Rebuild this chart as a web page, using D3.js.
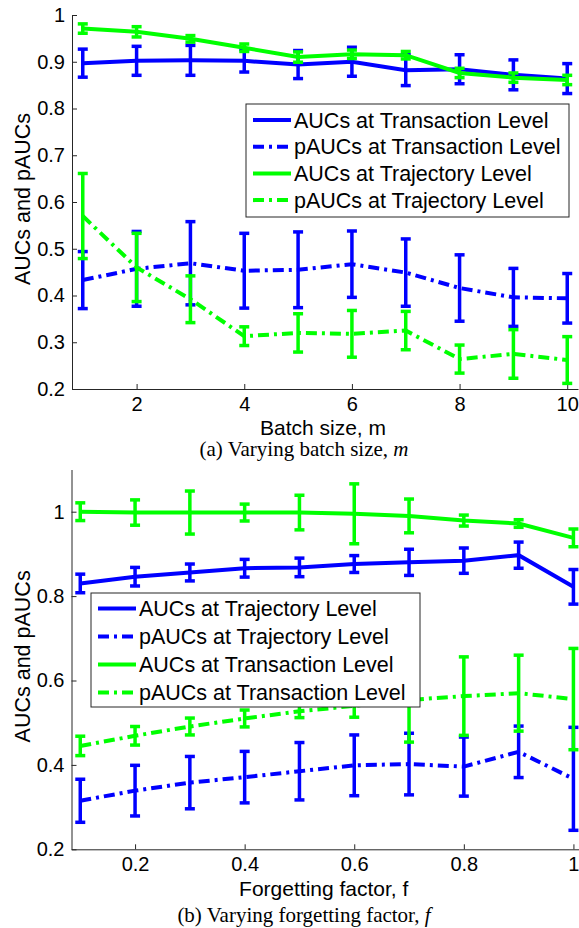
<!DOCTYPE html>
<html>
<head>
<meta charset="utf-8">
<script src="https://cdn.jsdelivr.net/npm/d3@7"></script>
<style>
  body { margin: 0; background: #fff; }
  svg { display: block; }
  text { font-family: "Liberation Sans", Arial, sans-serif; fill: #000; }
  .caption { font-family: "Liberation Serif", "Times New Roman", serif; }
</style>
</head>
<body>
<div id="chart"></div>
<script>
// (a) varying batch size
var batchSize = [1, 2, 3, 4, 5, 6, 7, 8, 9, 10];
var aTransAUC = [0.897, 0.902, 0.903, 0.902, 0.894, 0.900, 0.882, 0.884, 0.872, 0.864];
var aTransAUCErr = [0.030, 0.031, 0.032, 0.024, 0.030, 0.031, 0.033, 0.031, 0.032, 0.032];
var aTransPAUC = [0.433, 0.457, 0.469, 0.453, 0.455, 0.467, 0.449, 0.416, 0.396, 0.394];
var aTransPAUCErr = [0.061, 0.080, 0.089, 0.080, 0.081, 0.071, 0.072, 0.071, 0.062, 0.053];
var aTrajAUC = [0.971, 0.964, 0.949, 0.930, 0.910, 0.916, 0.914, 0.876, 0.866, 0.861];
var aTrajAUCErr = [0.010, 0.011, 0.007, 0.008, 0.011, 0.009, 0.008, 0.010, 0.010, 0.010];
var aTrajPAUC = [0.570, 0.460, 0.392, 0.313, 0.320, 0.318, 0.325, 0.264, 0.275, 0.262];
var aTrajPAUCErr = [0.091, 0.073, 0.050, 0.020, 0.041, 0.050, 0.041, 0.030, 0.052, 0.050];
var aXTicks = [2, 4, 6, 8, 10];
var aYTicks = [0.2, 0.3, 0.4, 0.5, 0.6, 0.7, 0.8, 0.9, 1];
var aLegend = ["AUCs at Transaction Level", "pAUCs at Transaction Level",
               "AUCs at Trajectory Level", "pAUCs at Trajectory Level"];

// (b) varying forgetting factor
var forgetFactor = [0.1, 0.2, 0.3, 0.4, 0.5, 0.6, 0.7, 0.8, 0.9, 1.0];
var bTrajAUC = [0.830, 0.846, 0.856, 0.866, 0.868, 0.876, 0.880, 0.884, 0.897, 0.822];
var bTrajAUCErr = [0.022, 0.022, 0.020, 0.021, 0.022, 0.020, 0.031, 0.030, 0.031, 0.041];
var bTrajPAUC = [0.315, 0.339, 0.358, 0.371, 0.385, 0.399, 0.402, 0.396, 0.431, 0.367];
var bTrajPAUCErr = [0.051, 0.060, 0.062, 0.061, 0.068, 0.072, 0.073, 0.070, 0.061, 0.122];
var bTransAUC = [1.000, 0.998, 0.998, 0.998, 0.998, 0.995, 0.990, 0.979, 0.972, 0.938];
var bTransAUCErr = [0.021, 0.030, 0.051, 0.020, 0.041, 0.071, 0.040, 0.013, 0.009, 0.021];
var bTransPAUC = [0.445, 0.469, 0.491, 0.510, 0.527, 0.540, 0.554, 0.563, 0.570, 0.556];
var bTransPAUCErr = [0.023, 0.022, 0.020, 0.020, 0.015, 0.027, 0.100, 0.093, 0.090, 0.120];
var bXTicks = [0.2, 0.4, 0.6, 0.8, 1];
var bYTicks = [0.2, 0.4, 0.6, 0.8, 1];
var bLegend = ["AUCs at Trajectory Level", "pAUCs at Trajectory Level",
               "AUCs at Transaction Level", "pAUCs at Transaction Level"];

var BLUE = "#0000ff";
var GREEN = "#00ff00";
var DASHDOT = "11,5,3,5";

var svg = d3.select("#chart")
  .append("svg")
  .attr("width", 579)
  .attr("height", 928);

// Matlab style tick labels: 1, 2, 0.2 ...
function fmt(d) {
  return String(d);
}

function drawPanel(p) {
  var x = d3.scaleLinear().domain(p.xDomain).range(p.xRange);
  var y = d3.scaleLinear().domain(p.yDomain).range(p.yRange);

  // axes, ticks inside like Matlab
  var xAxis = svg.append("g")
    .attr("transform", `translate(0, ${p.yRange[0]})`)
    .style("color", "#262626")
    .call(d3.axisBottom(x).tickValues(p.xTicks).tickFormat(fmt)
      .tickSizeInner(-5).tickSizeOuter(0).tickPadding(8));

  var yAxis = svg.append("g")
    .attr("transform", `translate(${p.xRange[0]}, 0)`)
    .style("color", "#262626")
    .call(d3.axisLeft(y).tickValues(p.yTicks).tickFormat(fmt)
      .tickSizeInner(-5).tickSizeOuter(0).tickPadding(7));

  [xAxis, yAxis].forEach(function(g) {
    g.selectAll("text")
      .style("font-size", "20px")
      .style("font-family", "'Liberation Sans', Arial, sans-serif")
      .attr("fill", "#000");
    g.select(".domain").attr("stroke-width", 1);
  });

  var line = d3.line()
    .x(d => x(d.x))
    .y(d => y(d.v));

  p.series.forEach(function(s) {
    var pts = p.xs.map((v, i) => ({x: v, v: s.values[i], e: s.errs[i]}));
    var g = svg.append("g");

    g.append("path")
      .datum(pts)
      .attr("d", line)
      .attr("fill", "none")
      .attr("stroke", s.color)
      .attr("stroke-width", 4)
      .attr("stroke-dasharray", s.dash ? DASHDOT : null);

    // error bars
    var bars = g.selectAll(".eb")
      .data(pts)
      .enter()
      .append("g")
      .attr("stroke", s.color)
      .attr("stroke-width", 3.5);

    bars.append("line")
      .attr("x1", d => x(d.x))
      .attr("x2", d => x(d.x))
      .attr("y1", d => y(d.v - d.e))
      .attr("y2", d => y(d.v + d.e));

    bars.append("line")
      .attr("x1", d => x(d.x) - 5)
      .attr("x2", d => x(d.x) + 5)
      .attr("y1", d => y(d.v - d.e))
      .attr("y2", d => y(d.v - d.e));

    bars.append("line")
      .attr("x1", d => x(d.x) - 5)
      .attr("x2", d => x(d.x) + 5)
      .attr("y1", d => y(d.v + d.e))
      .attr("y2", d => y(d.v + d.e));
  });

  // legend box
  var lg = svg.append("g")
    .attr("transform", `translate(${p.legend.x}, ${p.legend.y})`);

  lg.append("rect")
    .attr("width", p.legend.w)
    .attr("height", p.legend.h)
    .attr("fill", "#fff")
    .attr("stroke", "#262626")
    .attr("stroke-width", 1);

  p.series.forEach(function(s, i) {
    var cy = p.legend.first + i * p.legend.step;
    lg.append("line")
      .attr("x1", 7)
      .attr("x2", 45)
      .attr("y1", cy)
      .attr("y2", cy)
      .attr("stroke", s.color)
      .attr("stroke-width", 4)
      .attr("stroke-dasharray", s.dash ? DASHDOT : null);
    lg.append("text")
      .attr("x", 48)
      .attr("y", cy + 7.7)
      .style("font-size", "21.5px")
      .text(s.name);
  });

  // axis labels
  svg.append("text")
    .attr("transform", `translate(29.5, ${(p.yRange[0] + p.yRange[1]) / 2 - 3}) rotate(-90)`)
    .attr("text-anchor", "middle")
    .style("font-size", "21.5px")
    .text("AUCs and pAUCs");

  svg.append("text")
    .attr("x", (p.xRange[0] + p.xRange[1]) / 2 - 2)
    .attr("y", p.xLabelY)
    .attr("text-anchor", "middle")
    .style("font-size", "21px")
    .text(p.xLabel);

  // caption
  var cap = svg.append("text")
    .attr("class", "caption")
    .attr("x", 304)
    .attr("y", p.captionY)
    .attr("text-anchor", "middle")
    .style("font-size", "21px")
    .text(p.caption);
  cap.append("tspan")
    .style("font-style", "italic")
    .text(p.captionVar);
}

drawPanel({
  xs: batchSize,
  xDomain: [0.8, 10.2], xRange: [72, 578],
  yDomain: [0.2, 1], yRange: [389, 15],
  xTicks: aXTicks, yTicks: aYTicks,
  xLabel: "Batch size, m", xLabelY: 435,
  caption: "(a) Varying batch size, ", captionVar: "m", captionY: 456,
  legend: {x: 246, y: 104, w: 323, h: 113, first: 16, step: 26.7},
  series: [
    {name: aLegend[0], values: aTransAUC, errs: aTransAUCErr, color: BLUE, dash: false},
    {name: aLegend[1], values: aTransPAUC, errs: aTransPAUCErr, color: BLUE, dash: true},
    {name: aLegend[2], values: aTrajAUC, errs: aTrajAUCErr, color: GREEN, dash: false},
    {name: aLegend[3], values: aTrajPAUC, errs: aTrajPAUCErr, color: GREEN, dash: true}
  ]
});

drawPanel({
  xs: forgetFactor,
  xDomain: [0.084, 1.012], xRange: [71.5, 580],
  yDomain: [0.2, 1.1], yRange: [849.3, 469.5],
  xTicks: bXTicks, yTicks: bYTicks,
  xLabel: "Forgetting factor, f", xLabelY: 896,
  caption: "(b) Varying forgetting factor, ", captionVar: "f", captionY: 922,
  legend: {x: 91, y: 593, w: 329, h: 114, first: 15.5, step: 28},
  series: [
    {name: bLegend[0], values: bTrajAUC, errs: bTrajAUCErr, color: BLUE, dash: false},
    {name: bLegend[1], values: bTrajPAUC, errs: bTrajPAUCErr, color: BLUE, dash: true},
    {name: bLegend[2], values: bTransAUC, errs: bTransAUCErr, color: GREEN, dash: false},
    {name: bLegend[3], values: bTransPAUC, errs: bTransPAUCErr, color: GREEN, dash: true}
  ]
});
</script>
</body>
</html>
